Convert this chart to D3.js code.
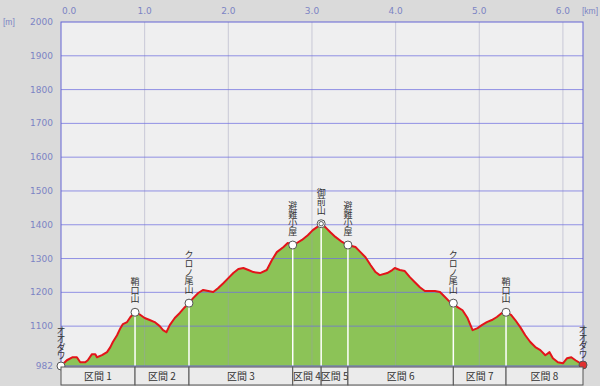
<!DOCTYPE html>
<html>
<head>
<meta charset="utf-8">
<script src="https://cdn.jsdelivr.net/npm/d3@7"></script>
<style>
  body { margin: 0; background: #dadada; }
  svg { display: block; }
  .ax { font-family: "DejaVu Sans", sans-serif; font-size: 9px; fill: #7c84c4; }
  .unit { font-family: "Liberation Sans", sans-serif; font-size: 8.5px; fill: #7c84c4; }
  .jp { font-family: "Noto Sans CJK JP", sans-serif; font-size: 9.5px; fill: #333; }
  .vt { writing-mode: vertical-rl; font-size: 9px; letter-spacing: -0.2px; }
</style>
</head>
<body>
<svg id="chart"></svg>
<script>
// 距離 [km] と標高 [m]
const dist = [0, 0.07, 0.14, 0.19, 0.23, 0.29, 0.32, 0.37, 0.41, 0.43, 0.49, 0.55, 0.59, 0.62, 0.67, 0.71, 0.74, 0.79, 0.83, 0.885,
  0.95, 1.00, 1.06, 1.12, 1.18, 1.22, 1.26, 1.30, 1.36, 1.42, 1.48, 1.53, 1.58, 1.64, 1.70, 1.76, 1.82, 1.88, 1.94, 2.00,
  2.06, 2.12, 2.18, 2.24, 2.30, 2.38, 2.46, 2.52, 2.58, 2.66, 2.71, 2.77, 2.82, 2.88, 2.95, 3.01, 3.06, 3.11, 3.16, 3.22,
  3.28, 3.36, 3.43, 3.52, 3.58, 3.64, 3.70, 3.76, 3.81, 3.90, 3.96, 3.99, 4.05, 4.11, 4.17, 4.23, 4.29, 4.35, 4.41, 4.47,
  4.53, 4.59, 4.65, 4.69, 4.74, 4.80, 4.86, 4.92, 4.98, 5.03, 5.09, 5.15, 5.21, 5.27, 5.32, 5.38, 5.43, 5.49, 5.55, 5.61,
  5.67, 5.73, 5.79, 5.84, 5.88, 5.94, 6.00, 6.05, 6.10, 6.15, 6.21, 6.24];
const elev = [982, 999, 1008, 1008, 993, 993, 999, 1017, 1017, 1008, 1014, 1023, 1038, 1053, 1073, 1094, 1106, 1112, 1127, 1141,
  1133, 1124, 1118, 1112, 1100, 1088, 1082, 1103, 1124, 1139, 1156, 1168, 1183, 1198, 1207, 1204, 1201, 1213, 1227, 1242,
  1257, 1269, 1272, 1266, 1260, 1257, 1266, 1295, 1319, 1334, 1346, 1340, 1346, 1355, 1369, 1384, 1393, 1403, 1393, 1378,
  1364, 1349, 1340, 1334, 1319, 1304, 1281, 1260, 1251, 1257, 1266, 1272, 1266, 1263, 1245, 1230, 1215, 1204, 1204, 1204,
  1201, 1186, 1171, 1168, 1156, 1147, 1124, 1088, 1094, 1103, 1112, 1118, 1127, 1139, 1141, 1133, 1118, 1097, 1073, 1053,
  1038, 1029, 1014, 1023, 1005, 993, 990, 1005, 1008, 999, 990, 985];

// 地点
const wpNames = ["オオダワ", "鞘口山", "クロノ尾山", "避難小屋", "御前山", "避難小屋", "クロノ尾山", "鞘口山", "オオダワ"];
const wpDist = [0, 0.885, 1.53, 2.77, 3.11, 3.43, 4.69, 5.32, 6.24];
const sections = ["区間 1", "区間 2", "区間 3", "区間 4", "区間 5", "区間 6", "区間 7", "区間 8"];

const kmTicks = [0, 1, 2, 3, 4, 5, 6];
const mTicks = [982, 1100, 1200, 1300, 1400, 1500, 1600, 1700, 1800, 1900, 2000];

const width = 600, height = 386;
const pL = 61, pR = 583, pT = 22, pB = 366;

const svg = d3.select("#chart").attr("width", width).attr("height", height);

const x = d3.scaleLinear().domain([0, 6.24]).range([pL, pR]);
const y = d3.scaleLinear().domain([982, 2000]).range([pB, pT]);

const pts = dist.map((d, i) => [d, elev[i]]);

// 地点の標高は断面から補間
const bis = d3.bisector(d => d[0]).left;
function elevAt(k) {
  let i = bis(pts, k);
  if (i <= 0) return pts[0][1];
  if (i >= pts.length) return pts[pts.length - 1][1];
  let a = pts[i - 1], b = pts[i];
  return a[1] + (b[1] - a[1]) * (k - a[0]) / (b[0] - a[0]);
}
const wps = wpNames.map((n, i) => ({ name: n, km: wpDist[i], m: elevAt(wpDist[i]) }));

svg.append("rect").attr("width", width).attr("height", height).attr("fill", "#dadada");
svg.append("rect").attr("x", pL).attr("y", pT).attr("width", pR - pL).attr("height", pB - pT)
  .attr("fill", "#efeff0");

// 断面
svg.append("path").datum(pts)
  .attr("d", d3.area().x(d => x(d[0])).y0(pB).y1(d => y(d[1])))
  .attr("fill", "#8cc357");

// グリッド
svg.append("g").selectAll("line").data(kmTicks.slice(1)).enter().append("line")
  .attr("x1", d => x(d)).attr("x2", d => x(d)).attr("y1", pT).attr("y2", pB)
  .attr("stroke", "#9a9ab8").attr("stroke-opacity", 0.45);
svg.append("g").selectAll("line").data(mTicks.slice(1, -1)).enter().append("line")
  .attr("x1", pL).attr("x2", pR).attr("y1", d => y(d)).attr("y2", d => y(d))
  .attr("stroke", "#7070e0").attr("stroke-opacity", 0.75);

// 地点の縦線
svg.append("g").selectAll("line").data(wps.slice(1, -1)).enter().append("line")
  .attr("x1", d => x(d.km)).attr("x2", d => x(d.km)).attr("y1", d => y(d.m)).attr("y2", pB)
  .attr("stroke", "#fff").attr("stroke-width", 1.5);

svg.append("path").datum(pts)
  .attr("d", d3.line().x(d => x(d[0])).y(d => y(d[1])))
  .attr("fill", "none").attr("stroke", "#e3141a").attr("stroke-width", 2).attr("stroke-linejoin", "round");

// 枠
svg.append("rect").attr("x", pL).attr("y", pT).attr("width", pR - pL).attr("height", pB - pT)
  .attr("fill", "none").attr("stroke", "#6464d4");

// マーカー
const mk = svg.append("g").selectAll("g").data(wps).enter().append("g")
  .attr("transform", d => `translate(${x(d.km)},${y(d.m)})`);
mk.append("circle").attr("r", 4)
  .attr("fill", (d, i) => i == wps.length - 1 ? "#e03030" : "#fff")
  .attr("stroke", "#555").attr("stroke-width", 1);
mk.filter(d => d.name == "御前山").append("circle").attr("r", 2.2)
  .attr("fill", "none").attr("stroke", "#555").attr("stroke-width", 1);

// 縦書きラベル
mk.append("text").attr("class", "jp vt")
  .attr("x", 0)
  .attr("y", d => d.name == "オオダワ" ? -7 : -9)
  .attr("text-anchor", "end")
  .style("letter-spacing", d => d.name == "オオダワ" ? "-0.8px" : null)
  .text(d => d.name);

// 軸ラベル
svg.append("g").selectAll("text").data(kmTicks).enter().append("text")
  .attr("class", "ax")
  .attr("x", d => d == 0 ? x(d) + 1 : x(d))
  .attr("y", 14)
  .attr("text-anchor", d => d == 0 ? "start" : "middle")
  .text(d3.format(".1f"));
svg.append("text").attr("class", "unit").attr("x", 582).attr("y", 14).text("[km]");
svg.append("text").attr("class", "unit").attr("x", 3).attr("y", 25).text("[m]");
svg.append("g").selectAll("text").data(mTicks).enter().append("text")
  .attr("class", "ax")
  .attr("x", 53).attr("y", d => y(d) + 3)
  .attr("text-anchor", "end")
  .text(d => d);

// 区間
const sec = svg.append("g").selectAll("g").data(sections).enter().append("g");
sec.append("rect")
  .attr("x", (d, i) => x(wpDist[i]))
  .attr("y", 367)
  .attr("width", (d, i) => x(wpDist[i + 1]) - x(wpDist[i]))
  .attr("height", 18)
  .attr("fill", "#ebebeb").attr("stroke", "#555").attr("stroke-width", 1);
sec.append("text").attr("class", "jp")
  .attr("x", (d, i) => (x(wpDist[i]) + x(wpDist[i + 1])) / 2)
  .attr("y", 380)
  .attr("text-anchor", "middle")
  .style("font-size", "10px")
  .text(d => d);
</script>
</body>
</html>
